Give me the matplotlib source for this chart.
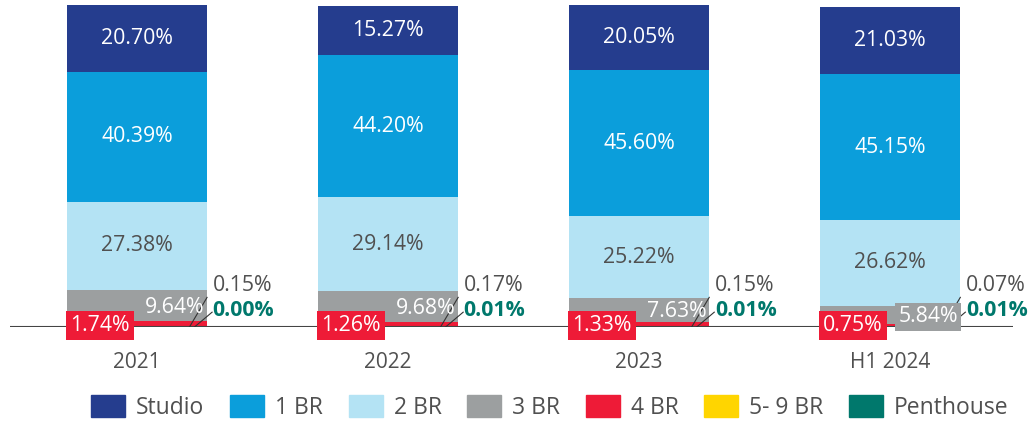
import matplotlib.pyplot as plt
import numpy as np
from matplotlib.patches import Patch

plt.rcParams['font.family'] = ['Open Sans', 'DejaVu Sans']

# ---------- DATA ----------------------------------------------
years = ['2021', '2022', '2023', 'H1 2024']
studio = [20.70, 15.27, 20.05, 21.03]
br1 = [40.39, 44.20, 45.60, 45.15]
br2 = [27.38, 29.14, 25.22, 26.62]
br3 = [9.64, 9.68, 7.63, 5.84]
br4 = [1.74, 1.26, 1.33, 0.75]
br5_9 = [0.15, 0.17, 0.15, 0.07]
penthouse = [0.00, 0.01, 0.01, 0.01]

names = ['Studio', '1 BR', '2 BR', '3 BR', '4 BR', '5- 9 BR', 'Penthouse']
colours = ['#253d8e', '#0b9edb', '#b4e3f4', '#9c9fa0', '#ee1b37', '#ffd500', '#00786c']
txt_grey = '#505050'
fs = 15.3

# ---------- FIGURE --------------------------------------------
fig = plt.figure(figsize=(10.28, 4.23), dpi=100)
ax = fig.add_axes([0.0097, 0.227, 0.976, 0.761])

x = np.arange(len(years))
w = 0.558

# stack from the bottom: penthouse, 5-9, 4, 3, 2, 1, studio
stack = [penthouse, br5_9, br4, br3, br2, br1, studio]
stack_cols = colours[::-1]
bottom = np.zeros(len(years))
bases = []
for vals, c in zip(stack, stack_cols):
    vals = np.array(vals)
    ax.bar(x, vals, w, bottom=bottom, color=c, zorder=2)
    bases.append(bottom.copy())
    bottom = bottom + vals
base_pt, base_59, base_4, base_3, base_2, base_1, base_st = bases

# centered labels for the big segments
for i in range(len(years)):
    ax.text(x[i], base_st[i] + studio[i] / 2, '%.2f%%' % studio[i], ha='center', va='center',
            color='white', fontsize=fs, zorder=5)
    ax.text(x[i], base_1[i] + br1[i] / 2, '%.2f%%' % br1[i], ha='center', va='center',
            color='white', fontsize=fs, zorder=5)
    ax.text(x[i], base_2[i] + br2[i] / 2, '%.2f%%' % br2[i], ha='center', va='center',
            color=txt_grey, fontsize=fs, zorder=5)

    # 3 BR, right aligned in the segment
    y3 = base_3[i] + br3[i] / 2 - 0.6
    if br3[i] < 7:
        ax.text(x[i] + w / 2 - 0.01, y3, '%.2f%%' % br3[i], ha='right', va='center',
                color='white', fontsize=fs, zorder=6,
                bbox=dict(boxstyle='square,pad=0.15', fc=colours[3], ec='none'))
    else:
        ax.text(x[i] + w / 2 - 0.01, y3, '%.2f%%' % br3[i], ha='right', va='center',
                color='white', fontsize=fs, zorder=6)

    # 4 BR, red box at the left
    ax.text(x[i] - w / 2 + 0.012, 0.4, '%.2f%%' % br4[i], ha='left', va='center',
            color='white', fontsize=fs, zorder=6,
            bbox=dict(boxstyle='square,pad=0.2', fc=colours[4], ec='none'))

    # tiny ones on the right with leader lines
    lx = x[i] + w / 2 + 0.022
    ax.text(lx, 12.8, '%.2f%%' % br5_9[i], ha='left', va='center',
            color=txt_grey, fontsize=fs, zorder=5)
    ax.text(lx, 5.2, '%.2f%%' % penthouse[i], ha='left', va='center',
            color=colours[6], fontsize=fs, fontweight='bold', zorder=5)
    ax.plot([x[i] + w / 2 - 0.07, x[i] + w / 2 + 0.0], [0, 9.2], color='#333333', lw=0.8, zorder=4)
    ax.plot([x[i] + w / 2 - 0.05, x[i] + w / 2 + 0.02], [0, 4.6], color='#333333', lw=0.8, zorder=4)

ax.axhline(0, color='#444444', lw=1.5, zorder=3)
ax.set_xlim(-0.506, 3.49)
ax.set_ylim(0, 100)
ax.set_xticks(x)
ax.set_xticklabels(years, fontsize=15, color=txt_grey)
ax.tick_params(axis='x', length=0, pad=18)
ax.set_yticks([])
for s in ax.spines.values():
    s.set_visible(False)

handles = [Patch(color=c) for c in colours]
leg = fig.legend(handles, names, loc='center', bbox_to_anchor=(0.535, 0.037), ncol=7,
                 frameon=False, fontsize=16.5, handlelength=1.48, handleheight=1.09,
                 handletextpad=0.48, columnspacing=1.12, labelcolor=txt_grey)

fig.savefig('out.png', dpi=100)
